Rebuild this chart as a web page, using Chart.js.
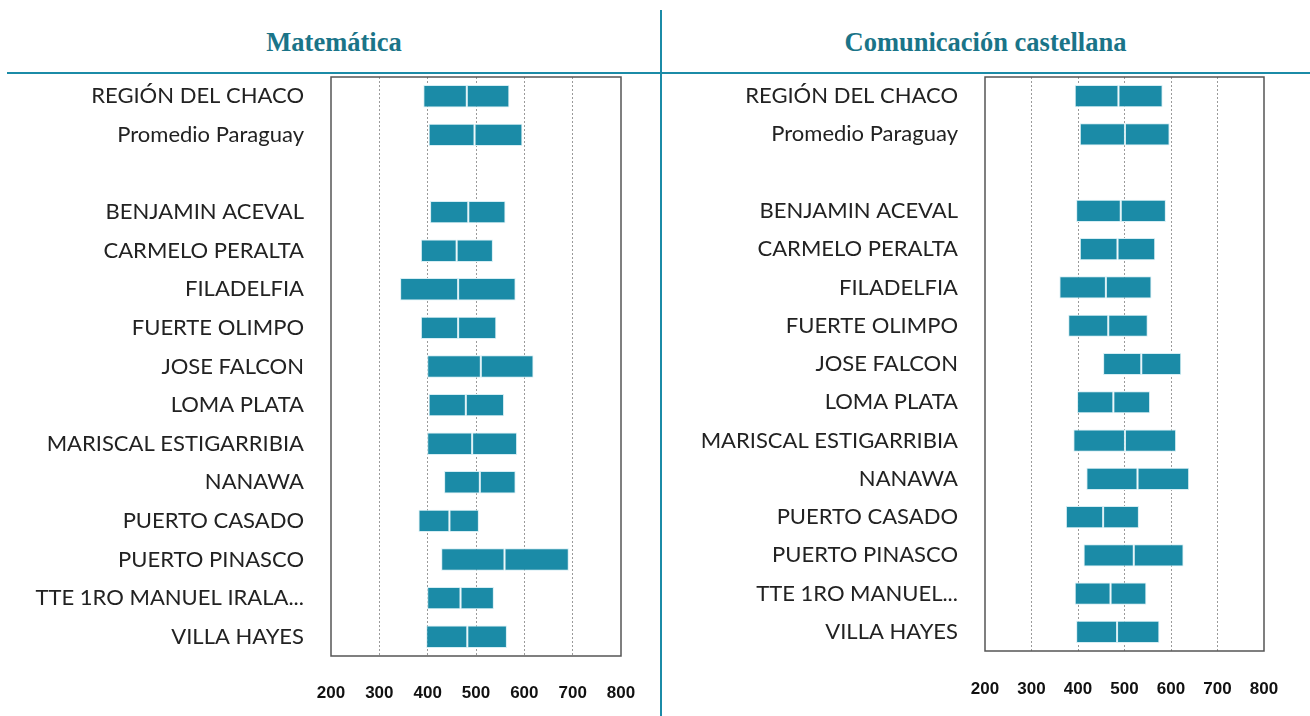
<!DOCTYPE html>
<html>
<head>
<meta charset="utf-8">
<script src="https://cdn.jsdelivr.net/npm/chart.js@4.4.0/dist/chart.umd.min.js"></script>
<style>
  body { margin: 0; background: #fff; width: 1310px; height: 716px; position: relative; overflow: hidden; }
  .title { position: absolute; top: 27px; font-family: "Liberation Serif", "DejaVu Serif", serif; font-weight: bold; font-size: 26.5px; color: #1a7488; text-align: center; }
  .hline { position: absolute; left: 7px; top: 72px; width: 1303px; height: 2px; background: #1b8ba7; }
  .vline { position: absolute; left: 660px; top: 10px; width: 2px; height: 706px; background: #1b8ba7; }
  .panel { position: absolute; top: 0; height: 716px; }
</style>
</head>
<body>
<div class="title" style="left:0;width:668px;">Matemática</div>
<div class="title" style="left:661px;width:649px;">Comunicación castellana</div>
<div class="hline"></div>
<div class="vline"></div>
<div class="panel" style="left:0;width:660px;"><canvas id="mathChart"></canvas></div>
<div class="panel" style="left:661px;width:649px;"><canvas id="comChart"></canvas></div>
<script>
// Categorías (fila vacía entre el promedio y los distritos)
const categorias = [
  'REGIÓN DEL CHACO', 'Promedio Paraguay', '',
  'BENJAMIN ACEVAL', 'CARMELO PERALTA', 'FILADELFIA', 'FUERTE OLIMPO',
  'JOSE FALCON', 'LOMA PLATA', 'MARISCAL ESTIGARRIBIA', 'NANAWA',
  'PUERTO CASADO', 'PUERTO PINASCO', 'TTE 1RO MANUEL IRALA...', 'VILLA HAYES'
];
const categoriasCom = categorias.map(c => c === 'TTE 1RO MANUEL IRALA...' ? 'TTE 1RO MANUEL...' : c);

// Matemática: inicio, mediana, fin de cada barra
const matBajo = [391, 402, null, 405, 386, 343, 386, 399, 402, 399, 434, 381, 428, 399, 397];
const matMedio = [481, 497, null, 484, 460, 463, 463, 510, 479, 492, 508, 445, 559, 468, 482];
const matAlto = [569, 596, null, 561, 535, 582, 542, 619, 558, 585, 582, 506, 692, 537, 564];

// Comunicación castellana
const comBajo = [393, 404, null, 396, 404, 360, 379, 454, 398, 390, 418, 374, 412, 393, 396];
const comMedio = [487, 501, null, 492, 485, 460, 465, 536, 476, 501, 528, 454, 520, 470, 484];
const comAlto = [582, 597, null, 589, 566, 558, 550, 622, 555, 611, 639, 531, 627, 547, 575];

const ticksX = [200, 300, 400, 500, 600, 700, 800];

const colorBarra = '#1b8ba7';
const bordeBarra = '#d6eef4';

// marco completo alrededor del área de datos
const marco = {
  id: 'marco',
  afterDraw(chart) {
    const a = chart.chartArea;
    const ctx = chart.ctx;
    ctx.save();
    ctx.strokeStyle = '#555';
    ctx.lineWidth = 1.5;
    ctx.strokeRect(a.left, a.top, a.right - a.left, a.bottom - a.top);
    ctx.restore();
  }
};

function crearGrafico(id, labels, bajo, medio, alto, g) {
  const tramo1 = bajo.map((v, i) => (v == null ? null : [v, medio[i]]));
  const tramo2 = bajo.map((v, i) => (v == null ? null : [medio[i], alto[i]]));
  const ds = d => ({
    data: d,
    backgroundColor: colorBarra,
    borderColor: bordeBarra,
    borderWidth: 1,
    borderSkipped: false,
    grouped: false,
    barPercentage: 0.58,
    categoryPercentage: 1,
  });
  return new Chart(document.getElementById(id), {
    type: 'bar',
    data: { labels: labels, datasets: [ds(tramo1), ds(tramo2)] },
    options: {
      indexAxis: 'y',
      responsive: false,
      animation: false,
      layout: { padding: { top: 77, right: g.right, left: 0, bottom: 0 } },
      plugins: { legend: { display: false }, tooltip: { enabled: false } },
      scales: {
        x: {
          min: 200,
          max: 800,
          afterBuildTicks: s => { s.ticks = ticksX.map(v => ({ value: v })); },
          afterFit: s => { s.height = g.xh; s.paddingRight = 0; s.paddingLeft = 0; },
          grid: {
            color: ctx => (ctx.tick && (ctx.tick.value === 200 || ctx.tick.value === 800) ? 'rgba(0,0,0,0)' : '#9a9a9a'),
            drawTicks: false,
          },
          border: { display: false, dash: [2, 2] },
          ticks: { color: '#111', padding: g.tp, font: { family: 'Liberation Sans', size: 17, weight: 'bold' } },
        },
        y: {
          afterFit: s => { s.width = g.yw; },
          grid: { display: false, drawTicks: false },
          border: { display: false },
          ticks: { color: '#222', padding: 27, autoSkip: false, font: { family: 'Lato', size: 22 } },
        },
      },
    },
    plugins: [marco],
  });
}

function preparar(id, w) {
  const c = document.getElementById(id);
  c.width = w; c.height = 716;
  c.style.width = w + 'px'; c.style.height = '716px';
}
preparar('mathChart', 660);
preparar('comChart', 649);

crearGrafico('mathChart', categorias, matBajo, matMedio, matAlto, { right: 39, yw: 331, xh: 60, tp: 27 });
crearGrafico('comChart', categoriasCom, comBajo, comMedio, comAlto, { right: 46, yw: 324, xh: 65, tp: 28 });
</script>
</body>
</html>
